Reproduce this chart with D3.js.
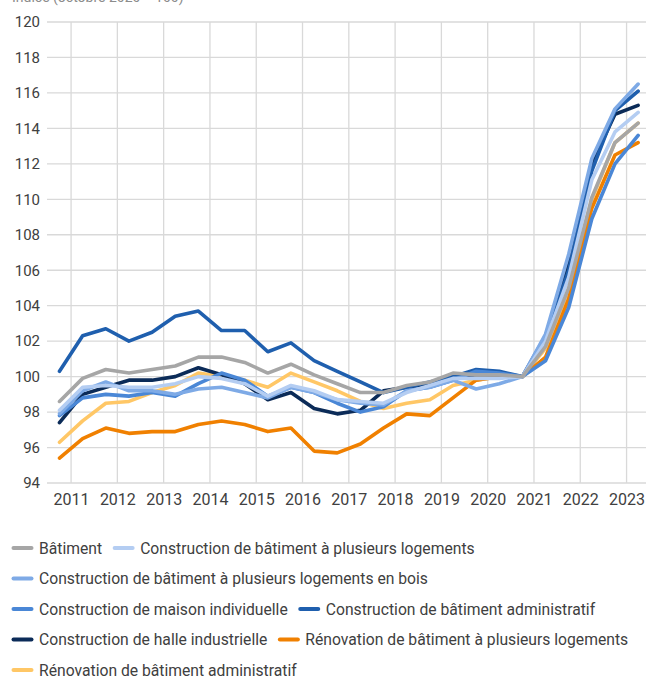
<!DOCTYPE html>
<html>
<head>
<meta charset="utf-8">
<script src="https://cdn.jsdelivr.net/npm/d3@7"></script>
<style>
  body { margin: 0; background: #fff; }
  svg { display: block; font-family: Roboto, "Noto Sans", sans-serif; }
</style>
</head>
<body>
<svg id="chart" width="646" height="679"></svg>
<script>
"use strict";

// semi-annual observations, Oct 2010 .. Apr 2023 (index Oct 2020 = 100)
const periods = d3.range(26).map(i => 2010.75 + i * 0.5)
const years = d3.range(2011, 2024)
const y_ticks = d3.range(94, 121, 2)

const names = [
   'Bâtiment',
   'Construction de bâtiment à plusieurs logements',
   'Construction de bâtiment à plusieurs logements en bois',
   'Construction de maison individuelle',
   'Construction de bâtiment administratif',
   'Construction de halle industrielle',
   'Rénovation de bâtiment à plusieurs logements',
   'Rénovation de bâtiment administratif'
]
const colors = ['#a6a6a6', '#b4cdf2', '#7eaae6', '#4a87d6', '#1f5fae', '#0b2b58', '#f08000', '#ffc766']

const batiment      = [98.6, 99.9, 100.4, 100.2, 100.4, 100.6, 101.1, 101.1, 100.8, 100.2, 100.7, 100.1, 99.6, 99.1, 99.1, 99.5, 99.7, 100.2, 100.1, 100.1, 100.0, 101.7, 105.0, 110.1, 113.2, 114.3]
const plusieurs     = [98.1, 99.4, 99.5, 99.4, 99.4, 99.6, 100.0, 99.9, 99.6, 98.9, 99.5, 99.2, 98.7, 98.6, 98.5, 99.1, 99.5, 99.9, 99.9, 99.9, 100.0, 102.0, 105.6, 111.1, 113.8, 114.9]
const bois          = [97.9, 99.2, 99.7, 99.2, 99.2, 99.0, 99.3, 99.4, 99.1, 98.8, 99.4, 99.1, 98.7, 98.5, 98.4, 99.2, 99.4, 99.8, 99.3, 99.6, 100.0, 102.4, 106.9, 112.3, 115.1, 116.5]
const maison        = [97.8, 98.8, 99.0, 98.9, 99.1, 98.9, 99.6, 100.2, 99.8, 98.9, 99.4, 99.1, 98.5, 98.0, 98.3, 99.2, 99.4, 99.8, 100.3, 100.2, 100.0, 100.9, 103.9, 108.9, 112.0, 113.6]
const administratif = [100.3, 102.3, 102.7, 102.0, 102.5, 103.4, 103.7, 102.6, 102.6, 101.4, 101.9, 100.9, 100.3, 99.7, 99.1, 99.4, 99.7, 100.0, 100.4, 100.3, 100.0, 102.1, 106.0, 111.6, 115.0, 116.1]
const halle         = [97.4, 99.0, 99.4, 99.8, 99.8, 100.0, 100.5, 100.1, 99.6, 98.7, 99.1, 98.2, 97.9, 98.1, 99.2, 99.4, 99.5, 99.9, 100.1, 100.1, 100.0, 102.3, 106.3, 112.0, 114.8, 115.3]
const renov_log     = [95.4, 96.5, 97.1, 96.8, 96.9, 96.9, 97.3, 97.5, 97.3, 96.9, 97.1, 95.8, 95.7, 96.2, 97.1, 97.9, 97.8, 98.8, 99.8, 100.0, 100.0, 101.1, 104.4, 109.5, 112.5, 113.2]
const renov_admin   = [96.3, 97.5, 98.5, 98.6, 99.1, 99.5, 100.2, 100.0, 99.8, 99.4, 100.2, 99.7, 99.2, 98.6, 98.2, 98.5, 98.7, 99.5, 99.8, 100.0, 100.0, 101.6, 104.9, 110.0, 113.2, 114.3]

const series = [batiment, plusieurs, bois, maison, administratif, halle, renov_log, renov_admin]
   .map((values, k) => ({ name: names[k], color: colors[k], values }))

const x = d3.scaleLinear().domain([2010.48, 2023.42]).range([47, 646])
const y = d3.scaleLinear().domain([94, 120]).range([483, 22])

const svg = d3.select('#chart')

// title, cropped at the top edge as in the source
svg.append('text')
   .attr('x', 12).attr('y', 2)
   .attr('font-size', 14)
   .attr('fill', '#8c8c8c')
   .text('Indice (octobre 2020 = 100)')

// grid
let grid = svg.append('g')
grid.selectAll('.h').data(y_ticks).enter().append('line')
   .attr('x1', 47).attr('x2', 646)
   .attr('y1', d => y(d)).attr('y2', d => y(d))
   .attr('stroke', '#d9d9d9').attr('stroke-width', 1.3)
grid.selectAll('.v').data(years).enter().append('line')
   .attr('x1', d => x(d)).attr('x2', d => x(d))
   .attr('y1', y(120)).attr('y2', y(94))
   .attr('stroke', '#d9d9d9').attr('stroke-width', 1.3)

// axes (labels only)
let y_axis = svg.append('g')
   .attr('transform', 'translate(47,0)')
   .call(d3.axisLeft(y).tickValues(y_ticks).tickSize(0).tickPadding(7))
y_axis.select('.domain').remove()
y_axis.selectAll('text').attr('font-size', 15).attr('fill', '#404040').attr('font-family', 'Roboto')

let x_axis = svg.append('g')
   .attr('transform', `translate(0,${y(94)})`)
   .call(d3.axisBottom(x).tickValues(years).tickFormat(d3.format('d')).tickSize(0).tickPadding(11))
x_axis.select('.domain').remove()
x_axis.selectAll('text').attr('font-size', 16).attr('fill', '#404040').attr('font-family', 'Roboto')

// lines
const line = d3.line()
   .x((d, i) => x(periods[i]))
   .y(d => y(d))

svg.append('g')
   .selectAll('path')
   .data(series.slice().reverse())
   .enter().append('path')
      .attr('d', d => line(d.values))
      .attr('fill', 'none')
      .attr('stroke', d => d.color)
      .attr('stroke-width', 3.6)
      .attr('stroke-linejoin', 'round')
      .attr('stroke-linecap', 'round')

// legend, flowing into rows
let legend = svg.append('g')
let lx = 12, ly = 548
series.forEach(s => {
   let item = legend.append('g')
   item.append('line')
      .attr('x1', 1.5).attr('x2', 19.5)
      .attr('stroke', s.color).attr('stroke-width', 4)
      .attr('stroke-linecap', 'round')
   let t = item.append('text')
      .attr('x', 27).attr('dy', '0.35em')
      .attr('font-size', 15.7).attr('fill', '#404040')
      .text(s.name)
   let w = 27 + t.node().getComputedTextLength()
   if (lx > 12 && lx + w > 642) {
      lx = 12
      ly += 30.5
   }
   item.attr('transform', `translate(${lx},${ly})`)
   lx += w + 11
})
</script>
</body>
</html>
